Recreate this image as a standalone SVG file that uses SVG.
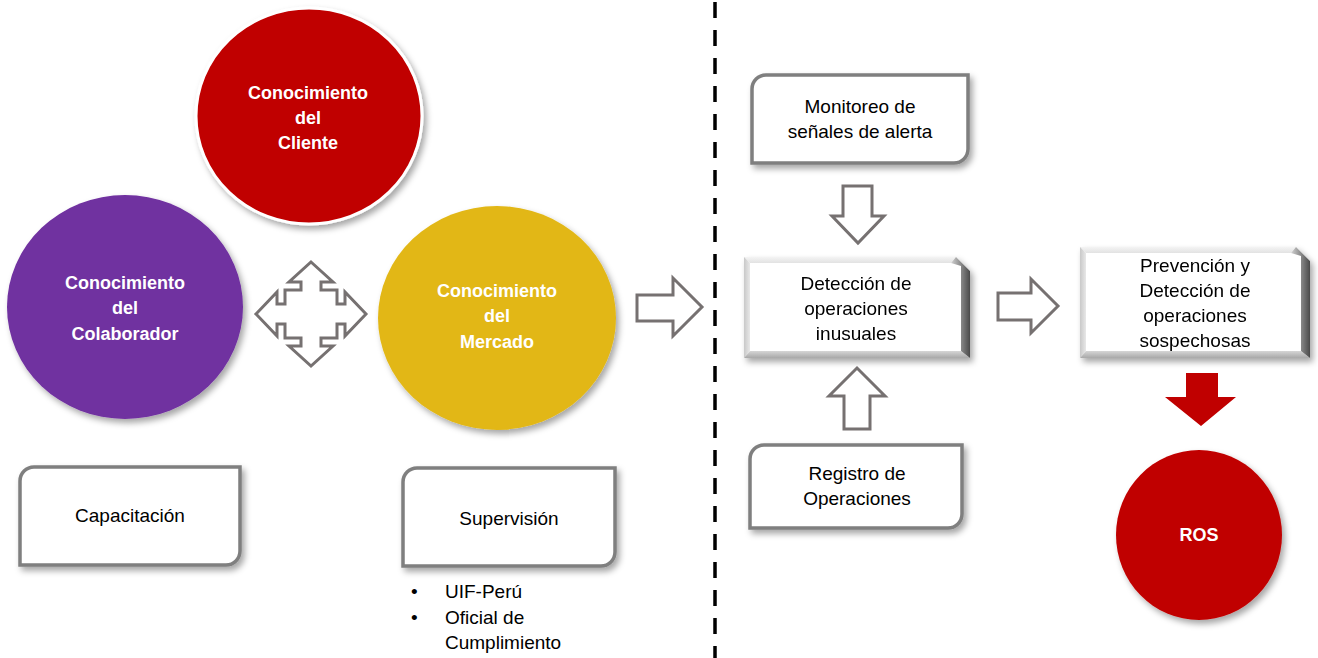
<svg xmlns="http://www.w3.org/2000/svg" width="1318" height="658" viewBox="0 0 1318 658">
<defs>
<filter id="sh" x="-10%" y="-10%" width="130%" height="130%">
<feDropShadow dx="3" dy="4" stdDeviation="3" flood-color="#000" flood-opacity="0.35"/>
</filter>
<linearGradient id="rg" x1="0" y1="0" x2="1" y2="0">
<stop offset="0" stop-color="#d0d0d0"/>
<stop offset="1" stop-color="#4a4a4a"/>
</linearGradient>
<linearGradient id="tg" x1="0" y1="0" x2="0" y2="1">
<stop offset="0" stop-color="#f4f4f4"/>
<stop offset="1" stop-color="#e2e2e2"/>
</linearGradient>
<linearGradient id="bg" x1="0" y1="0" x2="0" y2="1">
<stop offset="0" stop-color="#d6d6d6"/>
<stop offset="1" stop-color="#a8a8a8"/>
</linearGradient>
<linearGradient id="lg" x1="0" y1="0" x2="1" y2="0">
<stop offset="0" stop-color="#c8c8c8"/>
<stop offset="1" stop-color="#e8e8e8"/>
</linearGradient>
</defs>
<style>
.t{font-family:"Liberation Sans",Arial,sans-serif;font-size:19px;fill:#000;text-anchor:middle}
.tl{font-family:"Liberation Sans",Arial,sans-serif;font-size:19px;fill:#000}
.w{font-family:"Liberation Sans",Arial,sans-serif;font-size:18px;font-weight:bold;fill:#fff;text-anchor:middle}
.box{fill:#fff;stroke:#7f7f7f;stroke-width:3.5;filter:url(#sh)}
.arr{fill:#fff;stroke:#767171;stroke-width:3;stroke-linejoin:miter}
.dash{stroke:#000;stroke-width:3.5;stroke-dasharray:16 12;fill:none}
</style>
<rect width="1318" height="658" fill="#fff"/>

<g id="connectors">
<line class="dash" x1="715" y1="2" x2="715" y2="658"/>
<path class="arr" d="M311,262 L333,282 L321,282 L321,290 L337,290 L337,304 L345,304 L345,292 L366,314 L345,336 L345,324 L337,324 L337,338 L321,338 L321,346 L333,346 L311,366 L289,346 L301,346 L301,338 L285,338 L285,324 L277,324 L277,336 L256,314 L277,292 L277,304 L285,304 L285,290 L301,290 L301,282 L289,282 Z"/>
<path class="arr" d="M637,295 L673,295 L673,278 L702,307 L673,336 L673,321 L637,321 Z"/>
<path class="arr" d="M843,186 L872,186 L872,216 L884,216 L858,243 L832,216 L843,216 Z"/>
<path class="arr" d="M844,429 L870,429 L870,396 L885,396 L857,368 L829,396 L844,396 Z"/>
<path class="arr" d="M998,293 L1031,293 L1031,279 L1058,306 L1031,333 L1031,320 L998,320 Z"/>
<path fill="#c00000" d="M1186,373 L1218,373 L1218,397 L1236,397 L1201,426 L1165,397 L1186,397 Z"/>
</g>

<g id="cliente">
<ellipse cx="309" cy="116" rx="113" ry="108" fill="#c00000" stroke="#fff" stroke-width="3" filter="url(#sh)"/>
<text class="w" x="308" y="99">Conocimiento</text>
<text class="w" x="308" y="124">del</text>
<text class="w" x="308" y="149">Cliente</text>
</g>

<g id="colaborador">
<ellipse cx="125" cy="307" rx="118" ry="112" fill="#7030a0" filter="url(#sh)"/>
<text class="w" x="125" y="289">Conocimiento</text>
<text class="w" x="125" y="314">del</text>
<text class="w" x="125" y="340">Colaborador</text>
</g>

<g id="mercado">
<ellipse cx="497" cy="318" rx="119" ry="112" fill="#e2b716" filter="url(#sh)"/>
<text class="w" x="497" y="297">Conocimiento</text>
<text class="w" x="497" y="322">del</text>
<text class="w" x="497" y="348">Mercado</text>
</g>

<g id="capacitacion">
<path class="box" d="M34,467 H240 V551 A14,14 0 0 1 226,565 H20 V481 A14,14 0 0 1 34,467 Z"/>
<text class="t" x="130" y="522">Capacitación</text>
</g>

<g id="supervision">
<path class="box" d="M417,468 H615 V552 A14,14 0 0 1 601,566 H403 V482 A14,14 0 0 1 417,468 Z"/>
<text class="t" x="509" y="525">Supervisión</text>
<text class="tl" x="411" y="598">•</text>
<text class="tl" x="445" y="598">UIF-Perú</text>
<text class="tl" x="411" y="624">•</text>
<text class="tl" x="445" y="624">Oficial de</text>
<text class="tl" x="445" y="649">Cumplimiento</text>
</g>

<g id="monitoreo">
<path class="box" d="M766,75 H968 V149 A14,14 0 0 1 954,163 H752 V89 A14,14 0 0 1 766,75 Z"/>
<text class="t" x="860" y="113">Monitoreo de</text>
<text class="t" x="860" y="138">señales de alerta</text>
</g>

<g id="deteccion" filter="url(#sh)">
<polygon points="744,257 956,257 970,271 970,358 744,358" fill="#fff"/>
<polygon points="744,257 956,257 951,263 750,263" fill="url(#tg)"/>
<polygon points="744,257 750,263 750,351 744,358" fill="url(#lg)"/>
<polygon points="744,358 750,351 961,351 970,358" fill="url(#bg)"/>
<polygon points="956,257 970,271 970,358 961,351 961,266 951,263" fill="url(#rg)"/>
<text class="t" x="856" y="290">Detección de</text>
<text class="t" x="856" y="315">operaciones</text>
<text class="t" x="856" y="340">inusuales</text>
</g>

<g id="registro">
<path class="box" d="M764,445 H962 V514 A14,14 0 0 1 948,528 H750 V459 A14,14 0 0 1 764,445 Z"/>
<text class="t" x="857" y="480">Registro de</text>
<text class="t" x="857" y="505">Operaciones</text>
</g>

<g id="prevencion" filter="url(#sh)">
<polygon points="1080,247 1296,247 1310,261 1310,358 1080,358" fill="#fff"/>
<polygon points="1080,247 1296,247 1291,253 1086,253" fill="url(#tg)"/>
<polygon points="1080,247 1086,253 1086,351 1080,358" fill="url(#lg)"/>
<polygon points="1080,358 1086,351 1301,351 1310,358" fill="url(#bg)"/>
<polygon points="1296,247 1310,261 1310,358 1301,351 1301,256 1291,253" fill="url(#rg)"/>
<text class="t" x="1195" y="272">Prevención y</text>
<text class="t" x="1195" y="297">Detección de</text>
<text class="t" x="1195" y="322">operaciones</text>
<text class="t" x="1195" y="347">sospechosas</text>
</g>

<g id="ros">
<ellipse cx="1199" cy="535" rx="83" ry="85" fill="#c00000" filter="url(#sh)"/>
<text class="w" x="1199" y="541">ROS</text>
</g>
</svg>
